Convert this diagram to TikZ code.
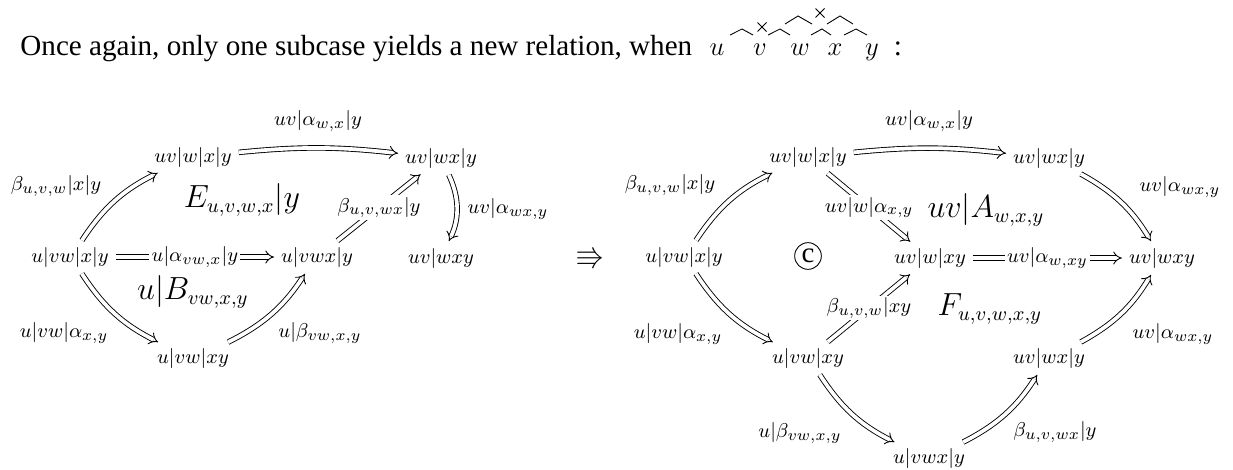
\documentclass[tikz,border=0pt]{standalone}
\usepackage{amsmath,amssymb}
\usepackage[no-math]{fontspec}
\setmainfont{Liberation Serif}
\usetikzlibrary{arrows.meta}

\tikzset{
  obj/.style={font=\fontsize{9.5}{11}\selectfont, inner sep=2pt},
  lab/.style={font=\fontsize{9.5}{11}\selectfont, inner sep=1pt},
  desc/.style={lab, fill=white},
  face/.style={font=\fontsize{13.5}{16}\selectfont},
  head/.style={font=\fontsize{13.1}{15}\selectfont, inner sep=0pt, anchor=base},
  cell/.style={double, double equal sign distance, -{Implies}, shorten <=1pt, shorten >=1pt},
}

\begin{document}
\begin{tikzpicture}[x=45pt,y=45pt]
\useasboundingbox (0,0) rectangle (12.33,-4.70);

% the sentence and the little picture of u v w x y
\node[head, anchor=base west] (intro) at (0.20,-0.55) {Once again, only one subcase yields a new relation, when};
\foreach \l/\x in {u/7.17,v/7.60,w/8.00,x/8.35,y/8.72}
  \node[head] (h\l) at (\x,-0.55) {$\l$};
\node[head] (colon) at (8.98,-0.55) {:};
\foreach \a/\b/\c in {7.30/7.42/7.53,7.68/7.80/7.90,8.11/8.22/8.31,8.44/8.56/8.67}
  \draw (\a,-0.35) -- (\b,-0.29) -- (\c,-0.35);
\foreach \a/\b/\c in {7.85/7.98/8.12,8.27/8.40/8.53}
  \draw (\a,-0.24) -- (\b,-0.16) -- (\c,-0.24);
\foreach \m/\h in {7.62/-0.27,8.20/-0.13}
  \draw (\m-0.045,\h-0.045) -- (\m+0.045,\h+0.045) (\m-0.045,\h+0.045) -- (\m+0.045,\h-0.045);

% left diagram
\node[obj] (a1) at (0.70,-2.57) {$u|vw|x|y$};
\node[obj] (a2) at (1.93,-1.57) {$uv|w|x|y$};
\node[obj] (a3) at (4.41,-1.58) {$uv|wx|y$};
\node[obj] (a4) at (3.17,-2.57) {$u|vwx|y$};
\node[obj] (a5) at (4.41,-2.58) {$uv|wxy$};
\node[obj] (a6) at (1.93,-3.58) {$u|vw|xy$};

\node[face] (E) at (2.42,-2.00) {$E_{u,v,w,x}|y$};
\node[face] (B) at (1.93,-2.92) {$u|B_{vw,x,y}$};

\draw[cell] (a1) to[bend left=15] (a2);
\draw[cell] (a2) to[bend left=6] (a3);
\draw[cell] (a3) to[bend left=25] (a5);
\draw[cell] (a1) -- node[desc] (la4) {$u|\alpha_{vw,x}|y$} (a4);
\draw[cell] (a4) -- node[desc] (la5) {$\beta_{u,v,wx}|y$} (a3);
\draw[cell] (a1) to[bend right=15] (a6);
\draw[cell] (a6) to[bend right=15] (a4);

\node[lab] (la1) at (0.56,-1.86) {$\beta_{u,v,w}|x|y$};
\node[lab] (la2) at (3.18,-1.21) {$uv|\alpha_{w,x}|y$};
\node[lab] (la3) at (5.08,-2.09) {$uv|\alpha_{wx,y}$};
\node[lab] (la6) at (0.64,-3.33) {$u|vw|\alpha_{x,y}$};
\node[lab] (la7) at (3.20,-3.33) {$u|\beta_{vw,x,y}$};

\node[font=\fontsize{13}{15}\selectfont] (imp) at (5.90,-2.58) {$\Rrightarrow$};

% right diagram
\node[obj] (b1) at (6.84,-2.57) {$u|vw|x|y$};
\node[obj] (b2) at (8.08,-1.57) {$uv|w|x|y$};
\node[obj] (b3) at (10.49,-1.58) {$uv|wx|y$};
\node[obj] (b4) at (9.30,-2.58) {$uv|w|xy$};
\node[obj] (b5) at (11.62,-2.58) {$uv|wxy$};
\node[obj] (b6) at (8.08,-3.58) {$u|vw|xy$};
\node[obj] (b7) at (10.49,-3.58) {$uv|wx|y$};
\node[obj] (b8) at (9.29,-4.58) {$u|vwx|y$};

\node[circle, draw, inner sep=0pt, minimum size=12pt, font=\fontsize{13}{15}\selectfont] (C) at (8.08,-2.56) {c};
\node[face] (A) at (9.86,-2.10) {$uv|A_{w,x,y}$};
\node[face] (F) at (9.90,-3.09) {$F_{u,v,w,x,y}$};

\draw[cell] (b1) to[bend left=15] (b2);
\draw[cell] (b2) to[bend left=6] (b3);
\draw[cell] (b3) to[bend left=15] (b5);
\draw[cell] (b2) -- node[desc] (lb4) {$uv|w|\alpha_{x,y}$} (b4);
\draw[cell] (b4) -- node[desc] (lb5) {$uv|\alpha_{w,xy}$} (b5);
\draw[cell] (b1) to[bend right=15] (b6);
\draw[cell] (b6) -- node[desc] (lb7) {$\beta_{u,v,w}|xy$} (b4);
\draw[cell] (b6) to[bend right=15] (b8);
\draw[cell] (b8) to[bend right=15] (b7);
\draw[cell] (b7) to[bend right=15] (b5);

\node[lab] (lb1) at (6.70,-1.85) {$\beta_{u,v,w}|x|y$};
\node[lab] (lb2) at (9.29,-1.21) {$uv|\alpha_{w,x}|y$};
\node[lab] (lb3) at (11.80,-1.87) {$uv|\alpha_{wx,y}$};
\node[lab] (lb6) at (6.78,-3.34) {$u|vw|\alpha_{x,y}$};
\node[lab] (lb8) at (8.00,-4.33) {$u|\beta_{vw,x,y}$};
\node[lab] (lb9) at (10.55,-4.32) {$\beta_{u,v,wx}|y$};
\node[lab] (lb10) at (11.73,-3.34) {$uv|\alpha_{wx,y}$};
\end{tikzpicture}
\end{document}
